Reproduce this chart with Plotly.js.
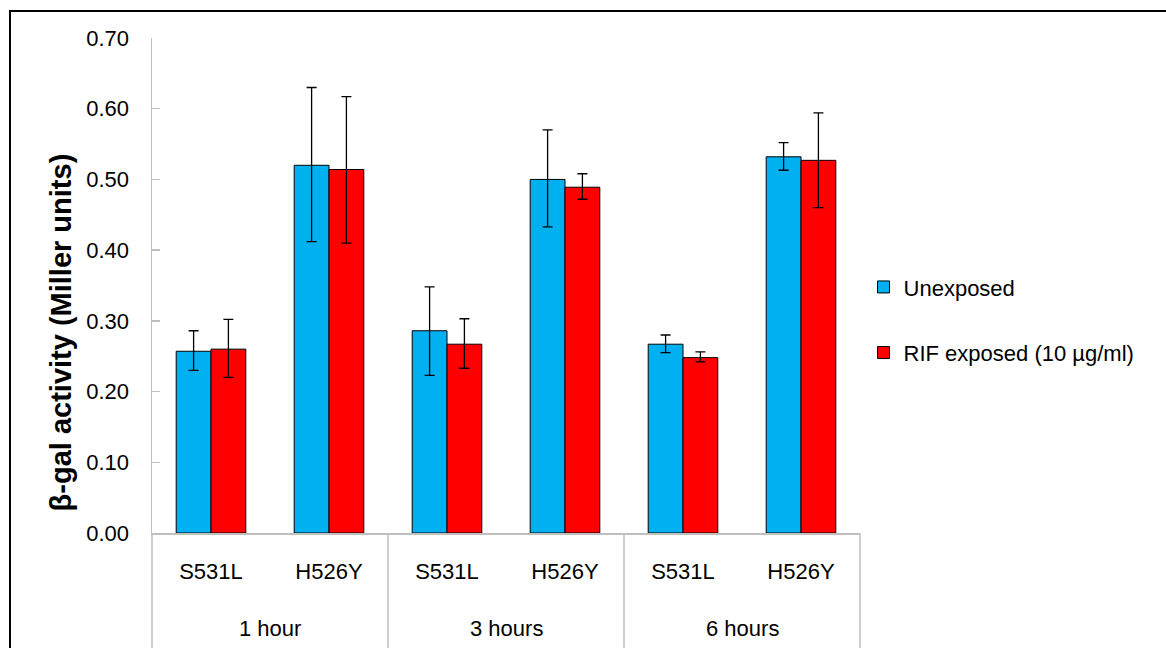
<!DOCTYPE html>
<html>
<head>
<meta charset="utf-8">
<script src="https://cdn.plot.ly/plotly-3.0.1.min.js"></script>
<style>
  html, body { margin: 0; padding: 0; background: #fff; }
  #chart { width: 1166px; height: 648px; }
  #frame { position: absolute; left: 9px; top: 10px; width: 1157px; height: 638px;
           border-top: 2.5px solid #000; border-left: 2.5px solid #000; pointer-events: none; }
</style>
</head>
<body>
<div id="chart"></div>
<div id="frame"></div>
<script>
// Data
const groupLabels = ["1 hour", "3 hours", "6 hours"];
const timeGroups = ["1 hour", "1 hour", "3 hours", "3 hours", "6 hours", "6 hours"];
const strains = ["S531L", "H526Y", "S531L", "H526Y", "S531L", "H526Y"];

const unexposed = [0.257, 0.520, 0.286, 0.500, 0.267, 0.532];
const unexposedErrPlus = [0.029, 0.110, 0.062, 0.070, 0.013, 0.020];
const unexposedErrMinus = [0.027, 0.108, 0.063, 0.067, 0.012, 0.019];

const rifExposed = [0.260, 0.514, 0.267, 0.489, 0.248, 0.527];
const rifErrPlus = [0.042, 0.103, 0.036, 0.019, 0.008, 0.067];
const rifErrMinus = [0.040, 0.104, 0.034, 0.017, 0.006, 0.067];

const yTickVals = [0, 0.1, 0.2, 0.3, 0.4, 0.5, 0.6, 0.7];
const yTickText = ["0.00", "0.10", "0.20", "0.30", "0.40", "0.50", "0.60", "0.70"];
const yTitle = "β-gal activity (Miller units)";

// combined category ids (group + strain)
const catIds = timeGroups.map((g, i) => g + " | " + strains[i]);

const FONT = "Liberation Sans, Arial, sans-serif";
const GRAY = "#bfbfbf";

const traces = [
  {
    type: "bar", name: "Unexposed", legendgroup: "a",
    x: catIds, y: unexposed,
    marker: { color: "#00B0F0", line: { color: "#000", width: 1 } },
    error_y: { type: "data", symmetric: false, array: unexposedErrPlus, arrayminus: unexposedErrMinus,
               color: "#000", thickness: 1.3, width: 5 }
  },
  {
    type: "bar", name: "RIF exposed (10 µg/ml)", legendgroup: "b",
    x: catIds, y: rifExposed,
    marker: { color: "#FF0000", line: { color: "#000", width: 1 } },
    error_y: { type: "data", symmetric: false, array: rifErrPlus, arrayminus: rifErrMinus,
               color: "#000", thickness: 1.3, width: 5 }
  }
];

// group labels and dividers (axis decoration in paper coordinates)
const nG = groupLabels.length;
const annotations = groupLabels.map((t, i) => ({
  text: t, xref: "paper", yref: "paper",
  x: (2 * i + 1) / (2 * nG), y: -0.192, xanchor: "center", yanchor: "middle",
  showarrow: false, font: { family: FONT, size: 22, color: "#000" }
}));
// y-axis title (placed as in the original, slightly below the axis centre)
annotations.push({
  text: "<b>" + yTitle + "</b>", xref: "paper", yref: "paper",
  x: -0.128, y: 0.406, xanchor: "center", yanchor: "middle", textangle: -90,
  showarrow: false, font: { family: FONT, size: 29, color: "#000" }
});
const shapes = [];
for (let i = 0; i <= nG; i++) {
  shapes.push({ type: "line", xref: "paper", yref: "paper",
    x0: i / nG, x1: i / nG, y0: 0, y1: -0.25,
    line: { color: GRAY, width: 1.5 } });
}

const layout = {
  width: 1166, height: 648,
  margin: { l: 152, r: 306, t: 38, b: 115 },
  paper_bgcolor: "#fff", plot_bgcolor: "#fff",
  barmode: "group", bargap: 0.41, bargroupgap: 0,
  font: { family: FONT, size: 22, color: "#000" },
  showlegend: true,
  legend: {
    x: 1.005, y: 0.43, xanchor: "left", yanchor: "middle",
    traceorder: "grouped", tracegroupgap: 34,
    font: { family: FONT, size: 22, color: "#000" }
  },
  annotations: annotations,
  shapes: shapes,
  xaxis: {
    type: "category",
    categoryorder: "array", categoryarray: catIds,
    tickvals: catIds, ticktext: strains,
    showline: true, linecolor: GRAY, linewidth: 1.5,
    ticks: "", showgrid: false, zeroline: false,
    ticklabelstandoff: 18,
    tickfont: { family: FONT, size: 22, color: "#000" }
  },
  yaxis: {
    range: [0, 0.7],
    tickvals: yTickVals, ticktext: yTickText,
    showline: true, linecolor: GRAY, linewidth: 1.5,
    ticks: "inside", ticklen: 8, tickcolor: GRAY, tickwidth: 1.5,
    showgrid: false, zeroline: false,
    tickfont: { family: FONT, size: 22, color: "#000" },
    ticklabelstandoff: 17
  }
};

Plotly.newPlot("chart", traces, layout, { displayModeBar: false, staticPlot: true });
</script>
</body>
</html>
